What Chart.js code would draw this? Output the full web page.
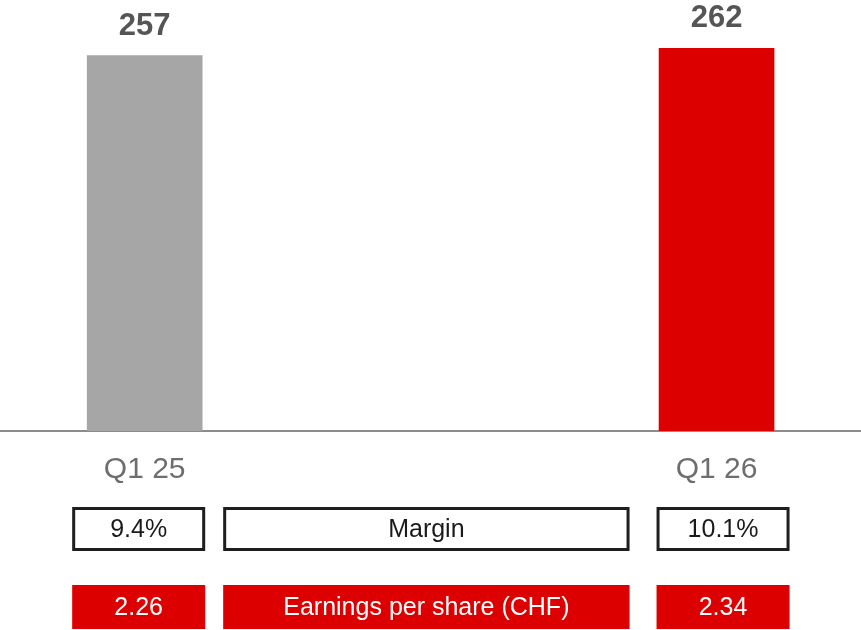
<!DOCTYPE html>
<html>
<head>
<meta charset="utf-8">
<script src="https://cdn.jsdelivr.net/npm/chart.js@4/dist/chart.umd.min.js"></script>
<style>
  body { margin: 0; background: #fff; }
  canvas { display: block; }
</style>
</head>
<body>
<canvas id="ebitChart" width="861" height="630"></canvas>
<script>
// data
const categories = ["Q1 25", "Q1 26"];
const values = [257, 262];
const marginValues = ["9.4%", "10.1%"];
const epsValues = ["2.26", "2.34"];
const rowTitles = ["Margin", "Earnings per share (CHF)"];

const FONT = "'Liberation Sans', Arial, sans-serif";
const RED = "#dd0000";

// numbers on top of the bars
const valueLabels = {
  id: "valueLabels",
  afterDatasetsDraw(chart) {
    const ctx = chart.ctx;
    const meta = chart.getDatasetMeta(0);
    ctx.save();
    ctx.font = "bold 31px " + FONT;
    ctx.fillStyle = "#555555";
    ctx.textAlign = "center";
    ctx.textBaseline = "alphabetic";
    meta.data.forEach((bar, i) => {
      ctx.fillText(values[i], bar.x, bar.y - 21);
    });
    ctx.restore();
  }
};

// the margin / EPS boxes under the axis
const kpiRows = {
  id: "kpiRows",
  afterDraw(chart) {
    const ctx = chart.ctx;
    const x = chart.scales.x;
    const w = 133, h = 44;
    const left = x.getPixelForValue(0) - 6 - w / 2;
    const right = x.getPixelForValue(1) + 6.5 - w / 2;
    const midL = left + w + 18, midR = right - 27;
    const rows = [
      { top: 507, vals: marginValues, title: rowTitles[0], filled: false },
      { top: 585, vals: epsValues, title: rowTitles[1], filled: true }
    ];
    ctx.save();
    ctx.font = "25px " + FONT;
    ctx.textAlign = "center";
    ctx.textBaseline = "middle";
    rows.forEach(r => {
      const boxes = [
        [left, w, r.vals[0]],
        [midL, midR - midL, r.title],
        [right, w, r.vals[1]]
      ];
      boxes.forEach(([bx, bw, txt]) => {
        if (r.filled) {
          ctx.fillStyle = RED;
          ctx.fillRect(bx, r.top, bw, h);
          ctx.fillStyle = "#ffffff";
        } else {
          ctx.strokeStyle = "#1e1e1e";
          ctx.lineWidth = 3;
          ctx.strokeRect(bx + 1.5, r.top + 1.5, bw - 3, h - 3);
          ctx.fillStyle = "#1a1a1a";
        }
        ctx.fillText(txt, bx + bw / 2, r.top + h / 2 + 1.5);
      });
    });
    ctx.restore();
  }
};

new Chart(document.getElementById("ebitChart").getContext("2d"), {
  type: "bar",
  data: {
    datasets: [{
      data: values.map((v, i) => ({ x: i, y: v })),
      backgroundColor: ["#a6a6a6", RED],
      borderWidth: 0,
      barThickness: 115
    }]
  },
  options: {
    responsive: false,
    animation: false,
    layout: { padding: { top: 22, bottom: 130, left: 0, right: 0 } },
    plugins: {
      legend: { display: false },
      tooltip: { enabled: false }
    },
    scales: {
      x: {
        type: "linear",
        offset: false,
        min: -0.253,
        max: 1.2526,
        afterBuildTicks: (scale) => {
          scale.ticks = categories.map((c, i) => ({ value: i }));
        },
        grid: { display: false },
        border: { display: true, color: "#8c8c8c", width: 2 },
        ticks: {
          padding: 12.5,
          color: "#6e6e6e",
          font: { family: FONT, size: 30 },
          callback: (v) => categories[v] ?? ""
        }
      },
      y: {
        display: false,
        min: 0,
        max: 280
      }
    }
  },
  plugins: [valueLabels, kpiRows]
});
</script>
</body>
</html>
